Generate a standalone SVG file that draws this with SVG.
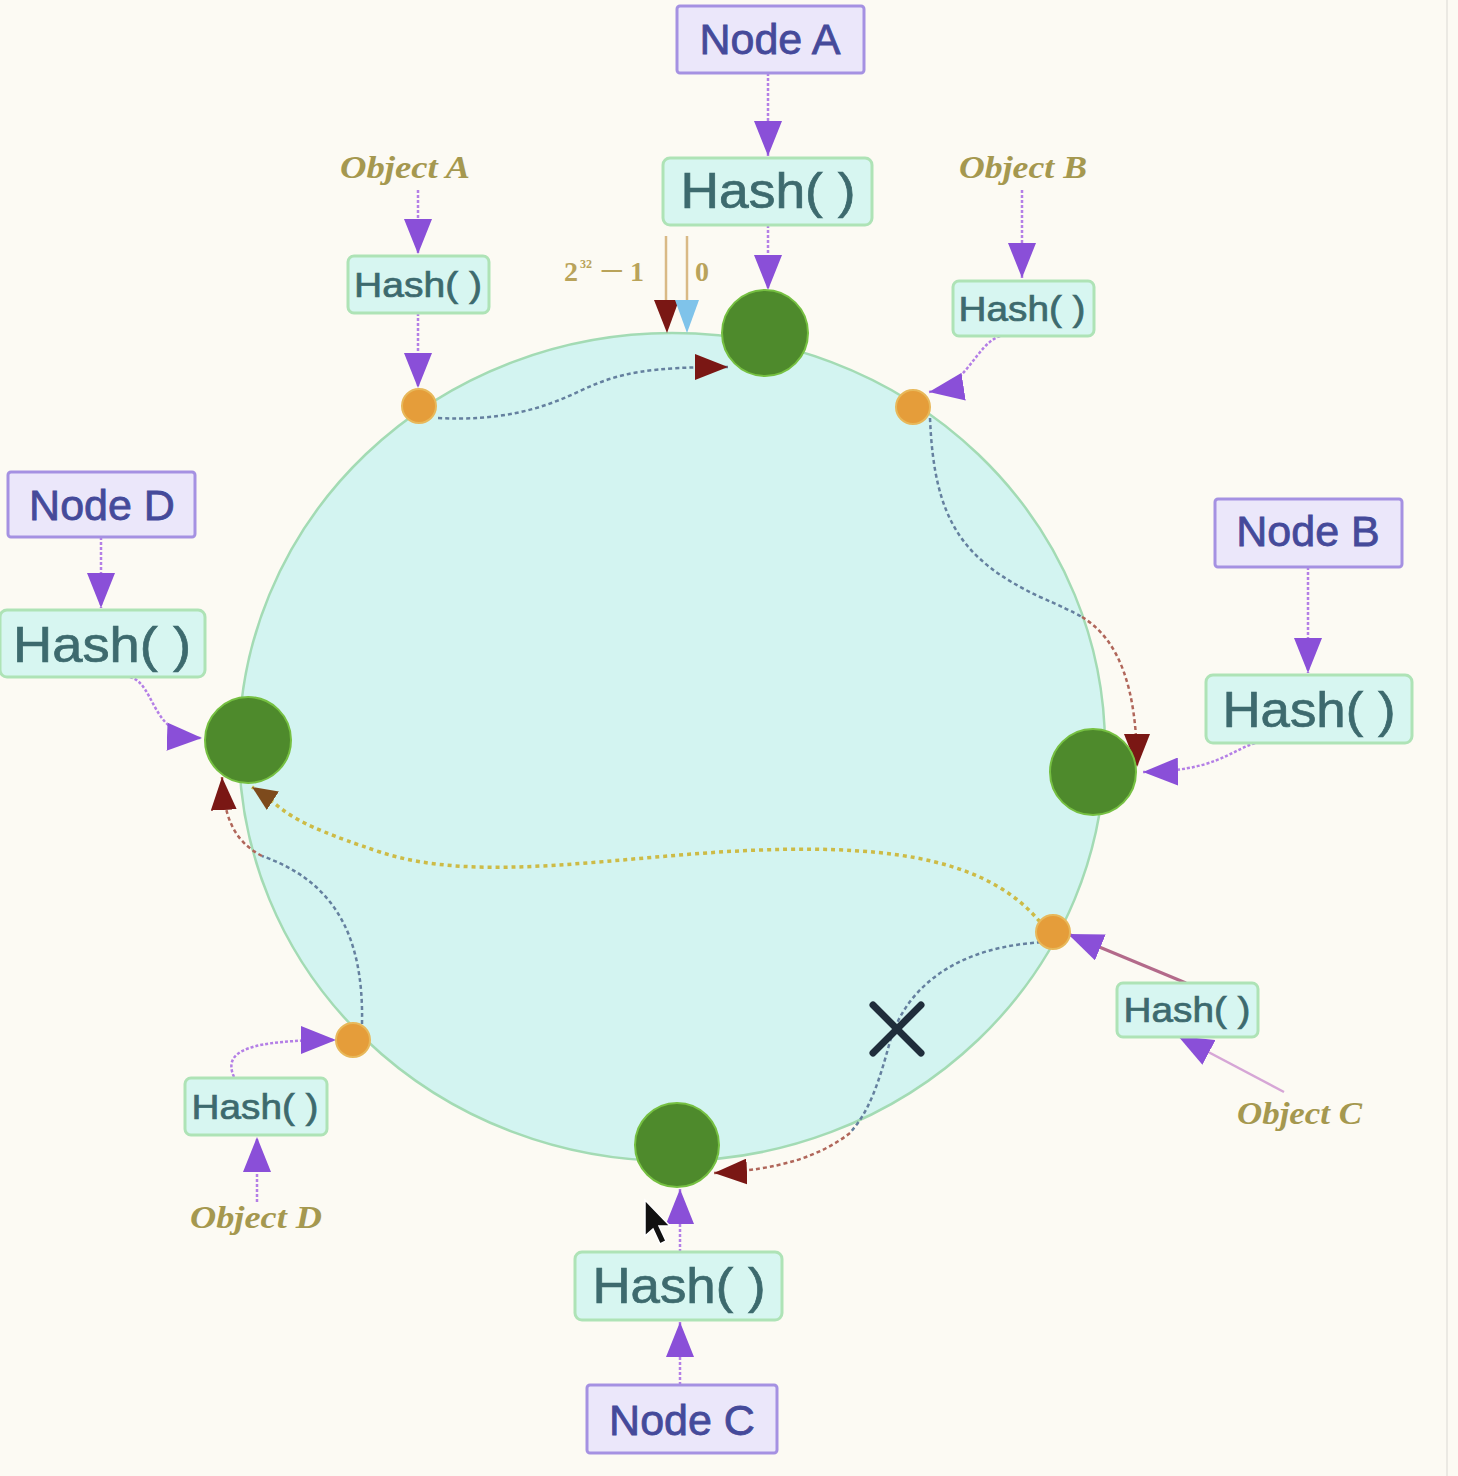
<svg xmlns="http://www.w3.org/2000/svg" width="1458" height="1476" viewBox="0 0 1458 1476">
<style>
.node rect{fill:#ebe7fa;stroke:#a591e2;stroke-width:3}
.node text{font-family:"Liberation Sans",Arial,sans-serif;font-size:43px;fill:#454a9a;stroke:#454a9a;stroke-width:0.8;text-anchor:middle}
.hash rect{fill:#d7f6f1;stroke:#aee3b6;stroke-width:3}
.hash text{font-family:"Liberation Sans",Arial,sans-serif;fill:#3d6a6e;stroke:#3d6a6e;stroke-width:0.7;text-anchor:middle}
.big text{font-size:50px}
.small text{font-size:35px}
.obj text{font-family:"Liberation Serif","Times New Roman",serif;font-style:italic;font-weight:bold;font-size:31px;fill:#a5984f}
.green{fill:#4e8a2c;stroke:#76c042;stroke-width:2}
.orange{fill:#e59d3a;stroke:#e8b85a;stroke-width:2}
.pc{fill:none;stroke:#b47fe6;stroke-width:2.5;stroke-dasharray:3 2}
.bg{fill:none;stroke:#65809f;stroke-width:2.5;stroke-dasharray:4 3}
.rd{fill:none;stroke:#b0665a;stroke-width:2.5;stroke-dasharray:4 3}
.yl{fill:none;stroke:#cdbb46;stroke-width:3.5;stroke-dasharray:4 4}
</style>
<defs>
<marker id="mp" markerUnits="userSpaceOnUse" markerWidth="36" markerHeight="28" refX="35" refY="14" orient="auto"><path d="M0,0 L35,14 L0,28 Z" fill="#8a4fd8"/></marker>
<marker id="mr" markerUnits="userSpaceOnUse" markerWidth="34" markerHeight="26" refX="33" refY="13" orient="auto"><path d="M0,0 L33,13 L0,26 Z" fill="#7a1714"/></marker>
<marker id="mb" markerUnits="userSpaceOnUse" markerWidth="26" markerHeight="22" refX="25" refY="11" orient="auto"><path d="M0,0 L25,11 L0,22 Z" fill="#7d4a1c"/></marker>
</defs>
<rect x="0" y="0" width="1458" height="1476" fill="#fcfaf3"/>
<line x1="1447" y1="0" x2="1447" y2="1476" stroke="#ebe9e3" stroke-width="2"/>

<g id="ring">
<ellipse cx="672" cy="747" rx="433" ry="414" fill="#d3f4f1" stroke="#a3dbb4" stroke-width="2.5"/>
</g>

<g id="connectors">
<path class="pc" d="M768 73 L768 156" marker-end="url(#mp)"/>
<path class="pc" d="M768 225 L768 290" marker-end="url(#mp)"/>
<path class="pc" d="M418 190 L418 254" marker-end="url(#mp)"/>
<path class="pc" d="M418 313 L418 388" marker-end="url(#mp)"/>
<path class="pc" d="M1022 190 L1022 278" marker-end="url(#mp)"/>
<path class="pc" d="M1000 336 C 975 345, 968 386, 929 392" marker-end="url(#mp)"/>
<path class="pc" d="M101 537 L101 608" marker-end="url(#mp)"/>
<path class="pc" d="M130 677 C 156 684, 150 736, 202 738" marker-end="url(#mp)"/>
<path class="pc" d="M1308 567 L1308 673" marker-end="url(#mp)"/>
<path class="pc" d="M1255 743 C 1228 752, 1215 771, 1143 772" marker-end="url(#mp)"/>
<path class="pc" d="M680 1385 L680 1322" marker-end="url(#mp)"/>
<path class="pc" d="M680 1252 L680 1189" marker-end="url(#mp)"/>
<path fill="none" stroke="#d6a6d6" stroke-width="2.5" d="M1284 1092 L1178 1036" marker-end="url(#mp)"/>
<path fill="none" stroke="#b36a8a" stroke-width="3" d="M1186 983 L1068 934" marker-end="url(#mp)"/>
<path class="pc" d="M257 1202 L257 1137" marker-end="url(#mp)"/>
<path class="pc" d="M234 1077 C 222 1050, 250 1040, 336 1040" marker-end="url(#mp)"/>

<path class="bg" d="M438 418 C 500 421, 540 410, 580 391 S 650 367, 728 367" marker-end="url(#mr)"/>
<path class="bg" d="M930 418 C 934 520, 962 560, 1040 597 Q 1070 610, 1082 617"/>
<path class="rd" d="M1082 617 C 1120 640, 1137 690, 1137 767" marker-end="url(#mr)"/>
<path class="bg" d="M1048 942 C 960 945, 905 985, 889 1045 S 862 1118, 850 1133"/>
<path class="rd" d="M850 1133 C 820 1156, 780 1170, 714 1173" marker-end="url(#mr)"/>
<path class="bg" d="M362 1024 C 364 930, 330 880, 262 856"/>
<path class="rd" d="M262 856 C 232 840, 224 815, 222 777" marker-end="url(#mr)"/>
<path class="yl" d="M1040 922 C 990 862, 900 845, 760 850 S 480 885, 380 852 S 290 812, 252 787" marker-end="url(#mb)"/>

<line x1="666" y1="236" x2="666" y2="302" stroke="#d9b985" stroke-width="2.5"/>
<line x1="687" y1="236" x2="687" y2="302" stroke="#d9b985" stroke-width="2.5"/>
<polygon points="654,300 679,300 667,333" fill="#7a1714"/>
<polygon points="675,300 699,300 687,333" fill="#7fc3ea"/>
</g>

<g id="label-range" font-family="Liberation Serif,Times New Roman,serif" font-weight="bold" fill="#b9a35a">
<text x="564" y="281" font-size="28">2</text>
<text x="580" y="268" font-size="12">32</text>
<text x="599" y="281" font-size="30" textLength="25" lengthAdjust="spacingAndGlyphs">−</text>
<text x="630" y="281" font-size="28">1</text>
<text x="695" y="281" font-size="28">0</text>
</g>

<g id="node-a" class="node"><rect x="677" y="6" width="187" height="67" rx="3"/><text x="770" y="54">Node A</text></g>
<g id="hash-a" class="hash big"><rect x="663" y="158" width="209" height="67" rx="7"/><text x="768" y="208" textLength="175" lengthAdjust="spacingAndGlyphs">Hash( )</text></g>
<g id="node-a-point"><circle class="green" cx="765" cy="333" r="43"/></g>

<g id="node-b" class="node"><rect x="1215" y="499" width="187" height="68" rx="3"/><text x="1308" y="546">Node B</text></g>
<g id="hash-b" class="hash big"><rect x="1206" y="675" width="206" height="68" rx="7"/><text x="1309" y="727" textLength="173" lengthAdjust="spacingAndGlyphs">Hash( )</text></g>
<g id="node-b-point"><circle class="green" cx="1093" cy="772" r="43"/></g>

<g id="node-c" class="node"><rect x="587" y="1385" width="190" height="68" rx="3"/><text x="682" y="1435">Node C</text></g>
<g id="hash-c" class="hash big"><rect x="575" y="1252" width="207" height="68" rx="7"/><text x="679" y="1303" textLength="173" lengthAdjust="spacingAndGlyphs">Hash( )</text></g>
<g id="node-c-point"><circle class="green" cx="677" cy="1145" r="42"/></g>

<g id="node-d" class="node"><rect x="8" y="472" width="187" height="65" rx="3"/><text x="102" y="520">Node D</text></g>
<g id="hash-d" class="hash big"><rect x="0" y="610" width="205" height="67" rx="7"/><text x="102" y="662" textLength="178" lengthAdjust="spacingAndGlyphs">Hash( )</text></g>
<g id="node-d-point"><circle class="green" cx="248" cy="740" r="43"/></g>

<g id="object-a" class="obj"><text x="340" y="178" textLength="130" lengthAdjust="spacingAndGlyphs">Object A</text></g>
<g id="hash-obj-a" class="hash small"><rect x="348" y="256" width="141" height="57" rx="6"/><text x="418" y="297" textLength="128" lengthAdjust="spacingAndGlyphs">Hash( )</text></g>
<g id="object-a-point"><circle class="orange" cx="419" cy="406" r="17"/></g>

<g id="object-b" class="obj"><text x="959" y="178" textLength="128" lengthAdjust="spacingAndGlyphs">Object B</text></g>
<g id="hash-obj-b" class="hash small"><rect x="953" y="281" width="141" height="55" rx="6"/><text x="1022" y="321" textLength="127" lengthAdjust="spacingAndGlyphs">Hash( )</text></g>
<g id="object-b-point"><circle class="orange" cx="913" cy="407" r="17"/></g>

<g id="object-c" class="obj"><text x="1237" y="1124" textLength="125" lengthAdjust="spacingAndGlyphs">Object C</text></g>
<g id="hash-obj-c" class="hash small"><rect x="1117" y="983" width="141" height="54" rx="6"/><text x="1187" y="1022" textLength="127" lengthAdjust="spacingAndGlyphs">Hash( )</text></g>
<g id="object-c-point"><circle class="orange" cx="1053" cy="932" r="17"/></g>

<g id="object-d" class="obj"><text x="190" y="1228" textLength="132" lengthAdjust="spacingAndGlyphs">Object D</text></g>
<g id="hash-obj-d" class="hash small"><rect x="185" y="1078" width="142" height="57" rx="6"/><text x="255" y="1119" textLength="127" lengthAdjust="spacingAndGlyphs">Hash( )</text></g>
<g id="object-d-point"><circle class="orange" cx="353" cy="1040" r="17"/></g>

<g id="removed-mark">
<path d="M873 1005 L921 1053 M921 1005 L873 1053" stroke="#1f2d3b" stroke-width="7" stroke-linecap="round" fill="none"/>
</g>

<g id="cursor">
<path d="M645 1200 L645 1236 L653 1229 L660 1244 L666 1241 L659 1226 L670 1226 Z" fill="#111" stroke="#fff" stroke-width="1.5"/>
</g>
</svg>
